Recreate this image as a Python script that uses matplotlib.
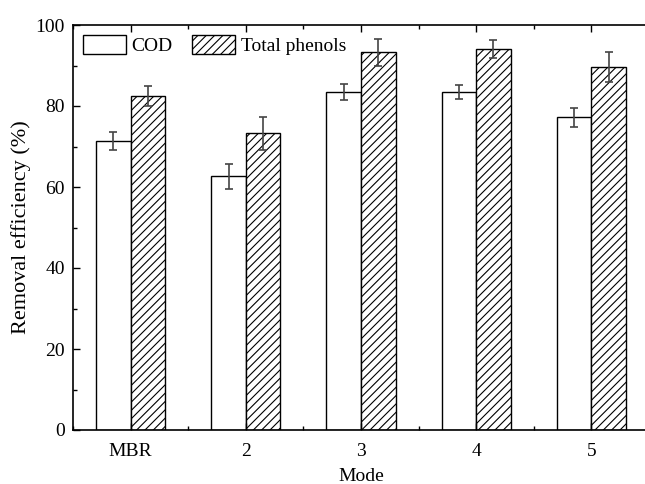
import numpy as np
import matplotlib
matplotlib.use("Agg")
import matplotlib.pyplot as plt
from matplotlib.ticker import MultipleLocator

plt.rcParams['font.family'] = ['Liberation Serif', 'DejaVu Serif']
plt.rcParams['hatch.linewidth'] = 0.8

# data
modes = ['MBR', '2', '3', '4', '5']
cod = [71.3, 62.6, 83.5, 83.5, 77.2]
cod_err = [2.2, 3.0, 1.9, 1.7, 2.3]
phenols = [82.5, 73.3, 93.3, 94.1, 89.6]
phenols_err = [2.5, 4.1, 3.3, 2.2, 3.7]

fig = plt.figure(figsize=(6.45, 4.84), dpi=100)
ax = fig.add_axes([73 / 645, 54 / 484, 576 / 645, 405 / 484])

x = np.arange(len(modes))
w = 0.3
err_kw = dict(ecolor='#444444', elinewidth=1.2, capsize=3, capthick=1.2)
ax.bar(x - w / 2, cod, w, yerr=cod_err, color='white', edgecolor='black',
       linewidth=1.0, label='COD', error_kw=err_kw)
ax.bar(x + w / 2, phenols, w, yerr=phenols_err, color='white', edgecolor='black',
       hatch='////', linewidth=1.0, label='Total phenols', error_kw=err_kw)

ax.set_xlim(-0.5, 4.5)
ax.set_ylim(0, 100)
ax.set_xticks(x)
ax.set_xticklabels(modes)
ax.xaxis.set_minor_locator(MultipleLocator(0.5))
ax.yaxis.set_major_locator(MultipleLocator(20))
ax.yaxis.set_minor_locator(MultipleLocator(10))
ax.tick_params(which='both', direction='in', labelsize=14, top=True, right=False)
ax.tick_params(axis='y', pad=6)
ax.tick_params(axis='x', pad=9)
ax.tick_params(which='major', length=5, width=1)
ax.tick_params(which='minor', length=3, width=1)
for s in ax.spines.values():
    s.set_linewidth(1.2)

ax.set_xlabel('Mode', fontsize=14, labelpad=6)
ax.set_ylabel('Removal efficiency (%)', fontsize=16, labelpad=3)

ax.legend(loc='upper left', ncol=2, frameon=False, fontsize=14,
          handlelength=2.2, handleheight=1.15, handletextpad=0.3,
          columnspacing=1.0, borderaxespad=0.1, bbox_to_anchor=(0.0, 1.0))

fig.savefig('out.png', dpi=100)
